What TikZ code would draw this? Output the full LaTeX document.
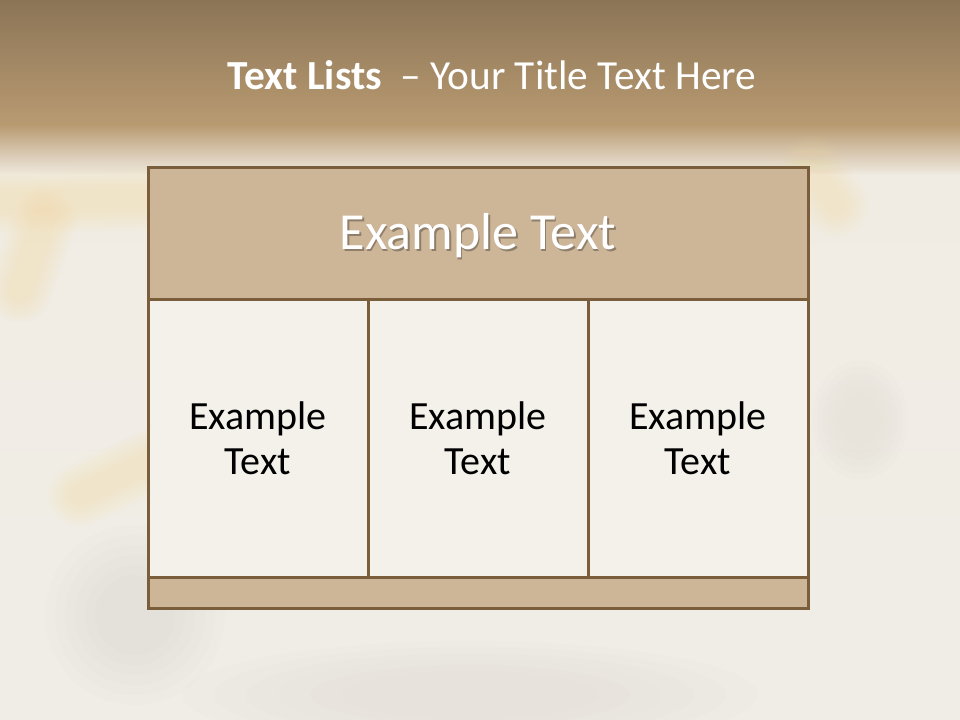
\documentclass[tikz,border=0pt]{standalone}
\usepackage{fontspec}
\setmainfont{Carlito}
\usetikzlibrary{calc}
\definecolor{bandtop}{HTML}{8B7456}
\definecolor{bandmid}{HTML}{B99B72}
\definecolor{fadeend}{HTML}{F1ECE3}
\definecolor{paper}{HTML}{F7F5F0}
\definecolor{paperlow}{HTML}{F0EDE7}
\definecolor{rim}{HTML}{7A5E3C}
\definecolor{tan}{HTML}{CDB598}
\definecolor{cellfill}{HTML}{F4F0EA}
\definecolor{blurgold}{HTML}{F0DCA6}
\definecolor{blurgray}{HTML}{D2CDC4}
\tikzset{
  panel/.style={draw=rim, line width=2.25pt, outer sep=0pt, inner sep=0pt, anchor=center},
  headbox/.style={panel, fill=tan, minimum width=495pt, minimum height=99pt},
  footbox/.style={panel, fill=tan, minimum width=495pt, minimum height=23.25pt},
  cellbox/.style={panel, fill=cellfill, minimum width=165pt, minimum height=207.75pt},
  celltext/.style={align=center, text=black, font=\fontsize{30}{33.75}\selectfont},
  headtext/.style={text=white, font=\fontsize{39}{45}\selectfont},
  headshade/.style={text=black, opacity=0.3, font=\fontsize{39}{45}\selectfont},
  titletext/.style={text=white, font=\fontsize{31}{37}\selectfont},
  goldblur/.style={draw=blurgold, line cap=round, line join=round},
  grayblur/.style={fill=blurgray},
}
\begin{document}
\begin{tikzpicture}[x=0.75pt, y=-0.75pt]
\useasboundingbox (0,0) rectangle (960,720);
% background
\shade[top color=bandtop, bottom color=bandmid] (0,0) rectangle (960,126);
\shade[top color=bandmid, bottom color=fadeend] (0,125) rectangle (960,176);
\shade[top color=fadeend, middle color=paper, bottom color=paperlow] (0,175) rectangle (960,720);
% soft blurred background shapes
\foreach \w in {64,58,52,46,40,34,28,22}{
  \draw[goldblur, line width=\w*0.75pt, opacity=0.06] (0,202) -- (140,198);
  \draw[goldblur, line width=\w*0.75pt, opacity=0.06] (45,218) -- (20,290);
  \draw[goldblur, line width=\w*0.75pt, opacity=0.06] (80,495) -- (150,462);
  \draw[goldblur, line width=\w*0.75pt, opacity=0.05] (812,168) -- (836,205);
}
\foreach \r in {90,80,70,60,50,40}{
  \fill[grayblur, opacity=0.05] (135,615) circle[radius=\r*0.75pt];
  \fill[grayblur, opacity=0.04] (860,420) ellipse[x radius=\r*0.4pt, y radius=\r*0.5pt];
  \fill[grayblur, opacity=0.04] (470,695) ellipse[x radius=\r*2.4pt, y radius=\r*0.45pt];
}
% title
\node[titletext] (title) at (492,75) {\textbf{Text Lists}\ \ – Your Title Text Here};
% table
\node[headbox] (head) at (478,234) {};
\node[cellbox] (c1) at (258,438.5) {};
\node[cellbox] (c2) at (478,438.5) {};
\node[cellbox] (c3) at (698,438.5) {};
\node[footbox] (foot) at (478,592.5) {};
\node[headshade] (headsh) at ($(head.center)+(1.6,3.3)$) {Example Text};
\node[headtext] (headlabel) at ($(head.center)+(0,1.5)$) {Example Text};
\node[celltext] (t1) at (c1.center) {Example\\Text};
\node[celltext] (t2) at (c2.center) {Example\\Text};
\node[celltext] (t3) at (c3.center) {Example\\Text};
\end{tikzpicture}
\end{document}
